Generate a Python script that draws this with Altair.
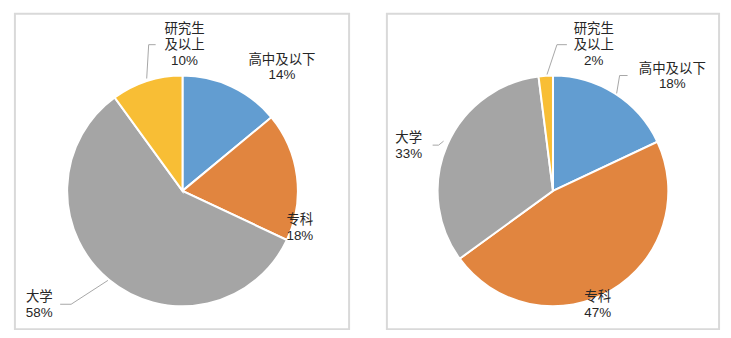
import altair as alt
import pandas as pd

# ---------------- data ----------------
categories = ["高中及以下", "专科", "大学", "研究生及以上"]
label_text = ["高中及以下", "专科", "大学", "研究生\n及以上"]
left_share = [14, 18, 58, 10]
right_share = [18, 47, 33, 2]
slice_colors = ["#629DD1", "#E1853F", "#A5A5A5", "#F8BE35"]

# ---------------- layout (pixels relative to each pie centre, y downward) ----------------
PIE_R = 116
FONT = "Liberation Sans, Noto Sans CJK SC"
FONT_SIZE = 13.5
LINE_H = 16
left_label_dx = [100, 118, -144, 2]
left_label_dy = [-124, 37, 115, -147]
right_label_dx = [120, 45, -145, 41]
right_label_dy = [-115, 115, -45, -147]
left_leader_cat = ["大学", "研究生及以上"]
left_leader_dx = [[-75, -112, -123], [-36, -34, -27]]
left_leader_dy = [[90, 114, 114], [-113, -147, -147]]
right_leader_cat = ["高中及以下", "大学", "研究生及以上"]
right_leader_dx = [[64, 67, 75], [-110, -115, -121], [-6, 4, 14]]
right_leader_dy = [[-98, -116, -116], [-50, -46, -46], [-117, -147, -147]]


def panel(shares, ldx, ldy, lcat, lpx, lpy, width, height, cx, cy):
    labels = [f"{t}\n{s}%" for t, s in zip(label_text, shares)]
    # first-line position so that the whole block is centred on (dx, dy)
    first_y = [d - (lab.count("\n")) * LINE_H / 2 for d, lab in zip(ldy, labels)]
    pies = pd.DataFrame({
        "cat": categories,
        "share": shares,
        "idx": list(range(len(categories))),
        "lx": ldx,
        "ly": first_y,
        "label": labels,
    })
    rows = []
    for c, xs_, ys_ in zip(lcat, lpx, lpy):
        for i, (a, b) in enumerate(zip(xs_, ys_)):
            rows.append({"lid": c, "seq": i, "px": a, "py": b})
    leaders = pd.DataFrame(rows)

    xs = alt.Scale(domain=[-cx, width - cx], nice=False, zero=False)
    ys = alt.Scale(domain=[-cy, height - cy], nice=False, zero=False, reverse=True)

    arc = alt.Chart(pies).mark_arc(outerRadius=PIE_R, stroke="white", strokeWidth=2).encode(
        theta=alt.Theta("share:Q", stack=True),
        color=alt.Color("cat:N", scale=alt.Scale(domain=categories, range=slice_colors), legend=None),
        order=alt.Order("idx:Q"),
        x=alt.XDatum(0, type="quantitative", scale=xs, axis=None),
        y=alt.YDatum(0, type="quantitative", scale=ys, axis=None),
    )
    lines = alt.Chart(leaders).mark_line(color="#A6A6A6", strokeWidth=1).encode(
        x=alt.X("px:Q", scale=xs, axis=None),
        y=alt.Y("py:Q", scale=ys, axis=None),
        detail="lid:N",
        order=alt.Order("seq:Q"),
    )
    text = alt.Chart(pies).mark_text(
        align="center", baseline="middle", font=FONT, fontSize=FONT_SIZE,
        lineBreak="\n", lineHeight=LINE_H, color="#262626",
    ).encode(
        x=alt.X("lx:Q", scale=xs, axis=None),
        y=alt.Y("ly:Q", scale=ys, axis=None),
        text="label:N",
    )
    return alt.layer(arc, lines, text).properties(width=width, height=height)


left = panel(left_share, left_label_dx, left_label_dy, left_leader_cat,
             left_leader_dx, left_leader_dy, 336, 317, 168.5, 178)
right = panel(right_share, right_label_dx, right_label_dy, right_leader_cat,
              right_leader_dx, right_leader_dy, 334, 317, 167, 178)

chart = alt.hconcat(left, right, spacing=36).properties(
    padding={"left": 14, "top": 12, "right": 11, "bottom": 9}
).configure_view(stroke="#D9D9D9", strokeWidth=2)

chart.save("out.html", embed_options={"renderer": "svg", "actions": False})
